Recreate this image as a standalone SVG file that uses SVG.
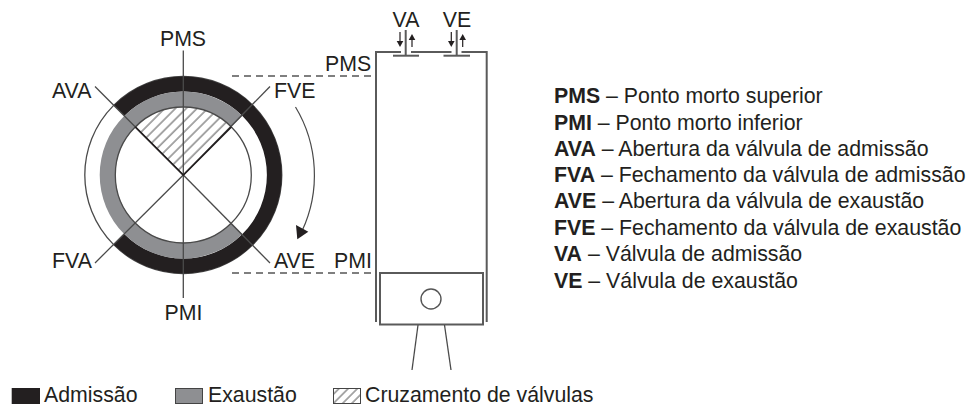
<svg xmlns="http://www.w3.org/2000/svg" width="970" height="407" viewBox="0 0 970 407">
<style>
text{font-family:"Liberation Sans",Arial,sans-serif;font-size:21.3px;fill:#231f20}
.m{text-anchor:middle}
.b{font-weight:bold}
.t{fill:none;stroke:#4a4a4a;stroke-width:1.3}
.k{fill:none;stroke:#5a5a5a;stroke-width:2}
.d{fill:none;stroke:#555;stroke-width:1.3;stroke-dasharray:7 5}
</style>
<defs>
<pattern id="hatch" patternUnits="userSpaceOnUse" width="7.6" height="7.6" patternTransform="rotate(-45 183 175)">
<rect width="7.6" height="7.6" fill="#fff"/><line x1="0" y1="1" x2="7.6" y2="1" stroke="#7a7a7a" stroke-width="1.3"/>
</pattern>
<pattern id="hatch2" patternUnits="userSpaceOnUse" width="6.5" height="6.5" patternTransform="rotate(-45)">
<rect width="6.5" height="6.5" fill="#fff"/><line x1="0" y1="1" x2="6.5" y2="1" stroke="#666" stroke-width="1.1"/>
</pattern>
</defs>

<g id="timing-diagram">
<circle cx="183.3" cy="175" r="98.5" class="t"/>
<path d="M113.6 244.6A98.5 98.5 0 1 0 113.6 105.4L124.3 116A83.5 83.5 0 1 1 124.3 234Z" fill="#231f20"/>
<path d="M242.3 116A83.5 83.5 0 1 0 242.3 234L231.4 223.1A68 68 0 1 1 231.4 126.9Z" fill="#8e8f92"/>
<path d="M183.3 175L135.2 126.9A68 68 0 0 1 231.4 126.9Z" fill="url(#hatch)"/>
<circle cx="183.3" cy="175" r="68" class="t"/>
</g>

<g id="connectors">
<line x1="183.3" y1="50.5" x2="183.3" y2="298" class="t"/>
<line x1="95" y1="86.5" x2="183.3" y2="175" class="t"/>
<line x1="270" y1="86.5" x2="183.3" y2="175" class="t"/>
<line x1="95" y1="263" x2="183.3" y2="175" class="t"/>
<line x1="270" y1="263" x2="183.3" y2="175" class="t"/>
<path d="M135.2 126.9L183.3 175L231.4 126.9" fill="none" stroke="#231f20" stroke-width="1.6"/>
<path d="M295.5 107A132 132 0 0 1 302 231" fill="none" stroke="#4a4a4a" stroke-width="1.2"/>
<path d="M296 225L308.3 231.7L297.3 239.3Z" fill="#231f20"/>
<line x1="232" y1="76" x2="372" y2="76" class="d"/>
<line x1="232" y1="273" x2="372" y2="273" class="d"/>
</g>

<g id="cylinder">
<path d="M376 322V52H401M411 52H451.5M461.5 52H486.7V322" class="k"/>
<line x1="393" y1="55.7" x2="419" y2="55.7" class="k"/>
<line x1="443.5" y1="55.7" x2="470" y2="55.7" class="k"/>
<line x1="405.7" y1="30" x2="405.7" y2="55" class="k"/>
<line x1="456.7" y1="30" x2="456.7" y2="55" class="k"/>
<g stroke="#231f20" stroke-width="1.2" fill="none">
<line x1="400" y1="32" x2="400" y2="42"/><line x1="412" y1="47" x2="412" y2="38"/>
<line x1="451.3" y1="32" x2="451.3" y2="42"/><line x1="462.7" y1="47" x2="462.7" y2="38"/>
</g>
<g fill="#231f20">
<path d="M396.7 41H403.3L400 47Z"/><path d="M408.7 40H415.3L412 34Z"/>
<path d="M448 41H454.6L451.3 47Z"/><path d="M459.4 40H466L462.7 34Z"/>
</g>
</g>

<g id="piston">
<rect x="380" y="273" width="103" height="51.5" fill="#fff" class="k"/>
<circle cx="431" cy="299" r="10" fill="#fff" stroke="#555" stroke-width="1.4"/>
<line x1="418" y1="325" x2="412" y2="370" class="t"/>
<line x1="444.5" y1="325" x2="451" y2="370" class="t"/>
</g>

<g id="labels">
<text x="183" y="45.5" class="m">PMS</text>
<text x="183.5" y="320" class="m">PMI</text>
<text x="52" y="97.5">AVA</text>
<text x="274" y="97.5">FVE</text>
<text x="52" y="268">FVA</text>
<text x="274" y="268">AVE</text>
<text x="325" y="71">PMS</text>
<text x="334" y="267.5">PMI</text>
<text x="406" y="26.5" class="m">VA</text>
<text x="457" y="26.5" class="m">VE</text>
</g>

<g id="key">
<text x="554" y="103"><tspan class="b">PMS</tspan> – Ponto morto superior</text>
<text x="554" y="129.5"><tspan class="b">PMI</tspan> – Ponto morto inferior</text>
<text x="554" y="155.5"><tspan class="b">AVA</tspan> – Abertura da válvula de admissão</text>
<text x="554" y="181.5"><tspan class="b">FVA</tspan> – Fechamento da válvula de admissão</text>
<text x="554" y="208"><tspan class="b">AVE</tspan> – Abertura da válvula de exaustão</text>
<text x="554" y="235"><tspan class="b">FVE</tspan> – Fechamento da válvula de exaustão</text>
<text x="554" y="261"><tspan class="b">VA</tspan> – Válvula de admissão</text>
<text x="554" y="288"><tspan class="b">VE</tspan> – Válvula de exaustão</text>
</g>

<g id="legend">
<rect x="11.7" y="388" width="28.3" height="16" fill="#231f20"/>
<text x="44" y="402.3">Admissão</text>
<rect x="175.5" y="388.5" width="27" height="15" fill="#8e8f92" stroke="#444" stroke-width="1"/>
<text x="208" y="402.3">Exaustão</text>
<rect x="333.5" y="388.5" width="27" height="15" fill="url(#hatch2)" stroke="#444" stroke-width="1"/>
<text x="365" y="402.3">Cruzamento de válvulas</text>
</g>
</svg>
